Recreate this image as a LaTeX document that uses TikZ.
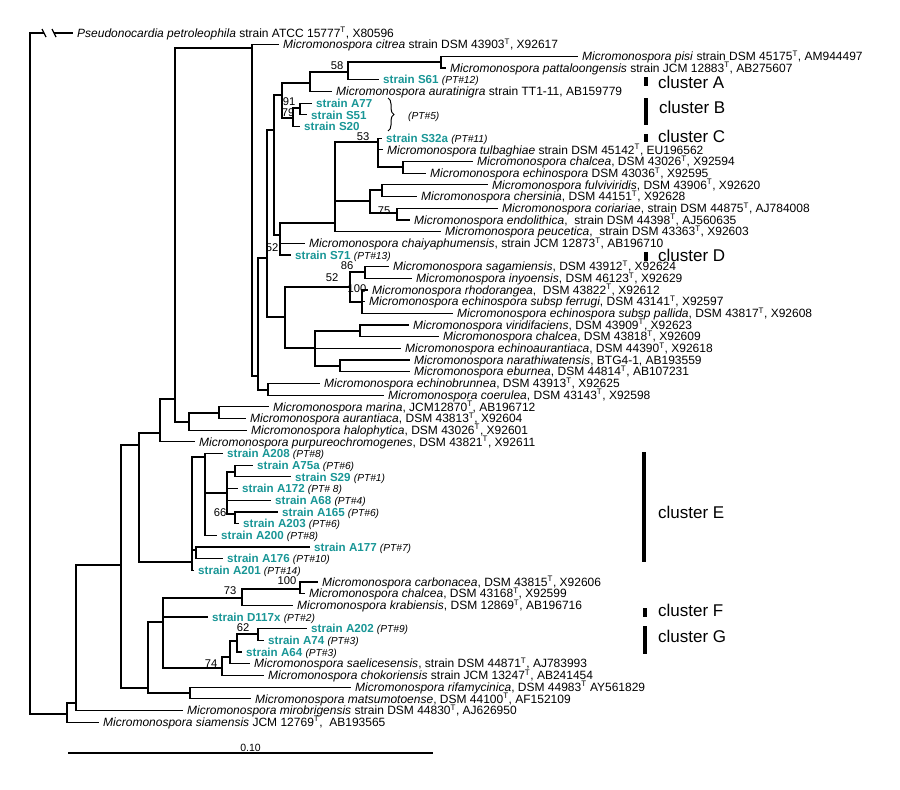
\documentclass[tikz,border=0pt]{standalone}
\usepackage{fontspec}
\setmainfont{Liberation Sans}
\usetikzlibrary{positioning,decorations.pathreplacing}
\definecolor{strainteal}{RGB}{25,150,150}
\newcommand{\mmsp}[1]{\textit{Micromonospora #1}}
\newcommand{\tsup}{\textsuperscript{T}}
\newcommand{\strn}[2]{{\bfseries\color{strainteal}strain #1}\ {\fontsize{10.2}{10}\selectfont\itshape #2}}
\tikzset{
  branch/.style={line width=1.2pt},
  leaf/.style={anchor=west, inner xsep=4pt, inner ysep=0pt, text height=8.4pt, text depth=0pt, font=\fontsize{12}{12}\selectfont},
  sleaf/.style={leaf, font=\fontsize{11.6}{12}\selectfont},
  boot/.style={inner sep=0pt, font=\fontsize{11.2}{11}\selectfont},
  clu/.style={anchor=west, inner sep=0pt, font=\fontsize{17}{18}\selectfont},
  cbar/.style={line width=4pt}
}
\begin{document}
\begin{tikzpicture}[x=1pt,y=-1pt]
	\useasboundingbox (0,0) rectangle (900,790);
	%% the inner nodes of the tree
	\coordinate (R) at (30,373);   \coordinate (A) at (67,714);   \coordinate (B) at (76,703);
	\coordinate (C) at (121,565);  \coordinate (D) at (139,445);  \coordinate (E) at (160,433);
	\coordinate (F) at (175,399);  \coordinate (G) at (252,48);   \coordinate (P) at (258,376);
	\coordinate (Q) at (267,258);  \coordinate (T) at (274,130);  \coordinate (U) at (282,95);
	\coordinate (X) at (310,83);   \coordinate (Z) at (348,72);   \coordinate (PP) at (441,62);
	\coordinate (Y) at (293,118);  \coordinate (Y2) at (300,108); \coordinate (W) at (280,235);
	\coordinate (V) at (335,223);  \coordinate (V1) at (378,142); \coordinate (VC) at (403,167);
	\coordinate (F0) at (370,201); \coordinate (F1) at (382,190); \coordinate (F2) at (397,213);
	\coordinate (SG) at (285,317); \coordinate (S0) at (350,287); \coordinate (SA) at (365,272);
	\coordinate (SB) at (362,302); \coordinate (SC) at (315,348); \coordinate (SC1) at (360,331);
	\coordinate (SC2) at (340,366); \coordinate (EC) at (268,390); \coordinate (M) at (189,422);
	\coordinate (MA) at (219,413); \coordinate (CE) at (192,562); \coordinate (E1) at (205,457);
	\coordinate (E3) at (227,493); \coordinate (E4) at (235,472); \coordinate (E5) at (235,514);
	\coordinate (E2) at (196,550); \coordinate (H) at (148,688);  \coordinate (H1) at (163,622);
	\coordinate (H3) at (242,598); \coordinate (H5) at (300,589); \coordinate (H4) at (222,668);
	\coordinate (H6) at (230,657); \coordinate (H7) at (237,641); \coordinate (H8) at (258,634);
	\coordinate (H2) at (190,693);
	\coordinate (k1) at (44,33); \coordinate (k2) at (54,33);
	%% the leaves
	\node[leaf] (l1) at (73,33.0) {\textit{Pseudonocardia petroleophila} strain ATCC 15777\tsup, X80596};
	\node[leaf] (l2) at (279,44.7) {\mmsp{citrea} strain DSM 43903\tsup, X92617};
	\node[leaf] (l3) at (578,56.4) {\mmsp{pisi} strain DSM 45175\tsup, AM944497};
	\node[leaf] (l4) at (446,68.0) {\mmsp{pattaloongensis} strain JCM 12883\tsup, AB275607};
	\node[sleaf] (l5) at (379,79.7) {\strn{S61}{(PT\#12)}};
	\node[leaf] (l6) at (332,91.4) {\mmsp{auratinigra} strain TT1-11, AB159779};
	\node[sleaf] (l7) at (312,103.1) {\strn{A77}{}};
	\node[sleaf] (l8) at (307,114.8) {\strn{S51}{}};
	\node[sleaf] (l9) at (300,126.4) {\strn{S20}{}};
	\node[sleaf] (l10) at (382,138.1) {\strn{S32a}{(PT\#11)}};
	\node[leaf] (l11) at (383,149.8) {\mmsp{tulbaghiae} strain DSM 45142\tsup, EU196562};
	\node[leaf] (l12) at (473,161.5) {\mmsp{chalcea}, DSM 43026\tsup, X92594};
	\node[leaf] (l13) at (426,173.2) {\mmsp{echinospora} DSM 43036\tsup, X92595};
	\node[leaf] (l14) at (488,184.8) {\mmsp{fulviviridis}, DSM 43906\tsup, X92620};
	\node[leaf] (l15) at (417,196.5) {\mmsp{chersinia}, DSM 44151\tsup, X92628};
	\node[leaf] (l16) at (498,208.2) {\mmsp{coriariae}, strain DSM 44875\tsup, AJ784008};
	\node[leaf] (l17) at (410,219.9) {\mmsp{endolithica}, \ strain DSM 44398\tsup, AJ560635};
	\node[leaf] (l18) at (441,231.6) {\mmsp{peucetica}, \ strain DSM 43363\tsup, X92603};
	\node[leaf] (l19) at (305,243.2) {\mmsp{chaiyaphumensis}, strain JCM 12873\tsup, AB196710};
	\node[sleaf] (l20) at (291,254.9) {\strn{S71}{(PT\#13)}};
	\node[leaf] (l21) at (389,266.6) {\mmsp{sagamiensis}, DSM 43912\tsup, X92624};
	\node[leaf] (l22) at (412,278.3) {\mmsp{inyoensis}, DSM 46123\tsup, X92629};
	\node[leaf] (l23) at (368,290.0) {\mmsp{rhodorangea}, \ DSM 43822\tsup, X92612};
	\node[leaf] (l24) at (365,301.6) {\mmsp{echinospora subsp ferrugi}, DSM 43141\tsup, X92597};
	\node[leaf] (l25) at (453,313.3) {\mmsp{echinospora subsp pallida}, DSM 43817\tsup, X92608};
	\node[leaf] (l26) at (409,325.0) {\mmsp{viridifaciens}, DSM 43909\tsup, X92623};
	\node[leaf] (l27) at (439,336.7) {\mmsp{chalcea}, DSM 43818\tsup, X92609};
	\node[leaf] (l28) at (401,348.4) {\mmsp{echinoaurantiaca}, DSM 44390\tsup, X92618};
	\node[leaf] (l29) at (410,360.0) {\mmsp{narathiwatensis}, BTG4-1, AB193559};
	\node[leaf] (l30) at (410,371.7) {\mmsp{eburnea}, DSM 44814\tsup, AB107231};
	\node[leaf] (l31) at (320,383.4) {\mmsp{echinobrunnea}, DSM 43913\tsup, X92625};
	\node[leaf] (l32) at (384,395.1) {\mmsp{coerulea}, DSM 43143\tsup, X92598};
	\node[leaf] (l33) at (269,406.8) {\mmsp{marina}, JCM12870\tsup, AB196712};
	\node[leaf] (l34) at (246,418.4) {\mmsp{aurantiaca}, DSM 43813\tsup, X92604};
	\node[leaf] (l35) at (247,430.1) {\mmsp{halophytica}, DSM 43026\tsup, X92601};
	\node[leaf] (l36) at (195,441.8) {\mmsp{purpureochromogenes}, DSM 43821\tsup, X92611};
	\node[sleaf] (l37) at (223,453.5) {\strn{A208}{(PT\#8)}};
	\node[sleaf] (l38) at (253,465.2) {\strn{A75a}{(PT\#6)}};
	\node[sleaf] (l39) at (291,476.8) {\strn{S29}{(PT\#1)}};
	\node[sleaf] (l40) at (238,488.5) {\strn{A172}{(PT\# 8)}};
	\node[sleaf] (l41) at (271,500.2) {\strn{A68}{(PT\#4)}};
	\node[sleaf] (l42) at (278,511.9) {\strn{A165}{(PT\#6)}};
	\node[sleaf] (l43) at (239,523.6) {\strn{A203}{(PT\#6)}};
	\node[sleaf] (l44) at (217,535.2) {\strn{A200}{(PT\#8)}};
	\node[sleaf] (l45) at (310,546.9) {\strn{A177}{(PT\#7)}};
	\node[sleaf] (l46) at (223,558.6) {\strn{A176}{(PT\#10)}};
	\node[sleaf] (l47) at (194,570.3) {\strn{A201}{(PT\#14)}};
	\node[leaf] (l48) at (318,582.0) {\mmsp{carbonacea}, DSM 43815\tsup, X92606};
	\node[leaf] (l49) at (305,593.6) {\mmsp{chalcea}, DSM 43168\tsup, X92599};
	\node[leaf] (l50) at (293,605.3) {\mmsp{krabiensis}, DSM 12869\tsup, AB196716};
	\node[sleaf] (l51) at (208,617.0) {\strn{D117x}{(PT\#2)}};
	\node[sleaf] (l52) at (307,628.7) {\strn{A202}{(PT\#9)}};
	\node[sleaf] (l53) at (264,640.4) {\strn{A74}{(PT\#3)}};
	\node[sleaf] (l54) at (242,652.0) {\strn{A64}{(PT\#3)}};
	\node[leaf] (l55) at (250,663.7) {\mmsp{saelicesensis}, strain DSM 44871\tsup, AJ783993};
	\node[leaf] (l56) at (264,675.4) {\mmsp{chokoriensis} strain JCM 13247\tsup, AB241454};
	\node[leaf] (l57) at (351,687.1) {\mmsp{rifamycinica}, DSM 44983\tsup\ AY561829};
	\node[leaf] (l58) at (251,698.8) {\mmsp{matsumotoense}, DSM 44100\tsup, AF152109};
	\node[leaf] (l59) at (183,710.4) {\mmsp{mirobrigensis} strain DSM 44830\tsup, AJ626950};
	\node[leaf] (l60) at (99,722.1) {\mmsp{siamensis} JCM 12769\tsup, \ AB193565};
	%% the branches
	\draw[branch, line width=1.8pt] (R) |- (k1);
	\draw[branch, line width=1.8pt] (k2) -- (l1.west);
	\draw[branch] ([xshift=-2pt,yshift=4pt]k1) -- ([xshift=2pt,yshift=-4pt]k1);
	\draw[branch] ([xshift=-2pt,yshift=4pt]k2) -- ([xshift=2pt,yshift=-4pt]k2);
	\draw[branch, line width=1.8pt] (R) |- (A);
	\draw[branch] (A) |- (B);   \draw[branch] (A) |- (l60.west);
	\draw[branch] (B) |- (C);   \draw[branch] (B) |- (l59.west);
	\draw[branch] (C) |- (D);   \draw[branch] (C) |- (H);
	\draw[branch] (D) |- (E);   \draw[branch] (D) |- (CE);
	\draw[branch] (E) |- (F);   \draw[branch] (E) |- (l36.west);
	\draw[branch] (F) |- (G);   \draw[branch] (F) |- (M);
	\draw[branch] (M) |- (MA);  \draw[branch] (M) |- (l35.west);
	\draw[branch] (MA) |- (l33.west); \draw[branch] (MA) |- (l34.west);
	\draw[branch] (G) |- (l2.west); \draw[branch] (G) |- (P);
	\draw[branch] (P) |- (Q);   \draw[branch] (P) |- (EC);
	\draw[branch] (EC) |- (l31.west); \draw[branch] (EC) |- (l32.west);
	\draw[branch] (Q) |- (T);   \draw[branch] (Q) |- (SG);
	\draw[branch] (T) |- (U);   \draw[branch] (T) |- (W);
	\draw[branch] (U) |- (X);   \draw[branch] (U) |- (Y);
	\draw[branch] (X) |- (Z);   \draw[branch] (X) |- (l6.west);
	\draw[branch] (Z) |- (PP);  \draw[branch] (Z) |- (l5.west);
	\draw[branch] (PP) |- (l3.west); \draw[branch] (PP) |- (l4.west);
	\draw[branch] (Y) |- (Y2);  \draw[branch] (Y) |- (l9.west);
	\draw[branch] (Y2) |- (l7.west); \draw[branch] (Y2) |- (l8.west);
	\draw[branch] (W) |- (V);   \draw[branch] (W) |- (l19.west); \draw[branch] (W) |- (l20.west);
	\draw[branch] (V) |- (V1);  \draw[branch] (V) |- (F0); \draw[branch] (V) |- (l18.west);
	\draw[branch] (V1) |- (l10.west); \draw[branch] (V1) |- (l11.west); \draw[branch] (V1) |- (VC);
	\draw[branch] (VC) |- (l12.west); \draw[branch] (VC) |- (l13.west);
	\draw[branch] (F0) |- (F1); \draw[branch] (F0) |- (F2);
	\draw[branch] (F1) |- (l14.west); \draw[branch] (F1) |- (l15.west);
	\draw[branch] (F2) |- (l16.west); \draw[branch] (F2) |- (l17.west);
	\draw[branch] (SG) |- (S0); \draw[branch] (SG) |- (SC);
	\draw[branch] (S0) |- (SA); \draw[branch] (S0) |- (SB);
	\draw[branch] (SA) |- (l21.west); \draw[branch] (SA) |- (l22.west);
	\draw[branch] (SB) |- (l23.west); \draw[branch] (SB) |- (l24.west); \draw[branch] (SB) |- (l25.west);
	\draw[branch] (SC) |- (SC1); \draw[branch] (SC) |- (l28.west); \draw[branch] (SC) |- (SC2);
	\draw[branch] (SC1) |- (l26.west); \draw[branch] (SC1) |- (l27.west);
	\draw[branch] (SC2) |- (l29.west); \draw[branch] (SC2) |- (l30.west);
	\draw[branch] (CE) |- (E1); \draw[branch] (CE) |- (E2); \draw[branch] (CE) |- (l47.west);
	\draw[branch] (E1) |- (l37.west); \draw[branch] (E1) |- (E3); \draw[branch] (E1) |- (l44.west);
	\draw[branch] (E3) |- (E4); \draw[branch] (E3) |- (l40.west); \draw[branch] (E3) |- (l41.west); \draw[branch] (E3) |- (E5);
	\draw[branch] (E4) |- (l38.west); \draw[branch] (E4) |- (l39.west);
	\draw[branch] (E5) |- (l42.west); \draw[branch] (E5) |- (l43.west);
	\draw[branch] (E2) |- (l45.west); \draw[branch] (E2) |- (l46.west);
	\draw[branch] (H) |- (H1);  \draw[branch] (H) |- (H2);
	\draw[branch] (H1) |- (H3); \draw[branch] (H1) |- (l51.west); \draw[branch] (H1) |- (H4);
	\draw[branch] (H3) |- (H5); \draw[branch] (H3) |- (l50.west);
	\draw[branch] (H5) |- (l48.west); \draw[branch] (H5) |- (l49.west);
	\draw[branch] (H4) |- (H6); \draw[branch] (H4) |- (l56.west);
	\draw[branch] (H6) |- (H7); \draw[branch] (H6) |- (l55.west);
	\draw[branch] (H7) |- (H8); \draw[branch] (H7) |- (l54.west);
	\draw[branch] (H8) |- (l52.west); \draw[branch] (H8) |- (l53.west);
	\draw[branch] (H2) |- (l57.west); \draw[branch] (H2) |- (l58.west);
	%% bootstrap values
	\node[boot] (b58) at (337,66) {58};
	\node[boot] (b91) at (289,102) {91};
	\node[boot] (b79) at (288,113) {79};
	\node[boot] (b53) at (363,137) {53};
	\node[boot] (b75) at (384,211) {75};
	\node[boot] (b52a) at (272,248) {52};
	\node[boot] (b86) at (347,266) {86};
	\node[boot] (b52b) at (332,278) {52};
	\node[boot] (b100a) at (357,289) {100};
	\node[boot] (b66) at (220,513) {66};
	\node[boot] (b100b) at (287,581) {100};
	\node[boot] (b73) at (230,591) {73};
	\node[boot] (b62) at (243,628) {62};
	\node[boot] (b74) at (211,664) {74};
	%% the PT#5 group
	\draw[decorate, decoration={brace, amplitude=6pt}, line width=1pt] (388,98) -- (388,131);
	\node[anchor=west, inner sep=0pt, font=\fontsize{10.2}{10}\selectfont\itshape] (pt5) at (408,117) {(PT\#5)};
	%% the clusters
	\draw[cbar] (646,77) -- (646,86);   \node[clu] (cA) at (658,82) {cluster A};
	\draw[cbar] (646,98) -- (646,125);  \node[clu] (cB) at (659,107) {cluster B};
	\draw[cbar] (646,134) -- (646,142); \node[clu] (cC) at (658,136) {cluster C};
	\draw[cbar] (646,252) -- (646,261); \node[clu] (cD) at (658,255) {cluster D};
	\draw[cbar] (644,452) -- (644,562); \node[clu] (cE) at (658,512) {cluster E};
	\draw[cbar] (645,608) -- (645,617); \node[clu] (cF) at (658,610) {cluster F};
	\draw[cbar] (645,626) -- (645,654); \node[clu] (cG) at (658,636) {cluster G};
	%% scale bar
	\coordinate (s0) at (68,753); \coordinate (s1) at (433,753);
	\draw[branch] (s0) -- (s1) node[midway, above=0.5pt, inner sep=0pt, font=\fontsize{10.5}{11}\selectfont] (sc) {0.10};
\end{tikzpicture}
\end{document}
